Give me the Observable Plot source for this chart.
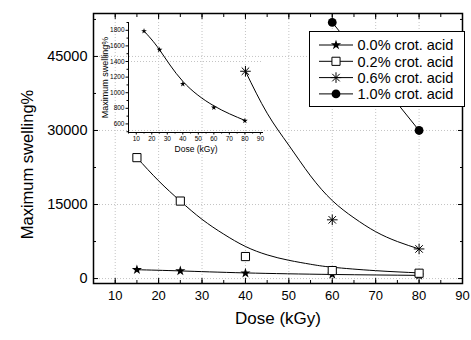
<!DOCTYPE html>
<html>
<head>
<meta charset="utf-8">
<script src="https://cdn.jsdelivr.net/npm/d3@7"></script>
<script src="https://cdn.jsdelivr.net/npm/@observablehq/plot@0.6"></script>
<style>
  html, body { margin: 0; padding: 0; background: #fff; }
  #wrap { position: relative; width: 471px; height: 340px; overflow: hidden; }
  #wrap svg { position: absolute; left: 0; top: 0; }
</style>
</head>
<body>
<div id="wrap"></div>
<script>
// ---------- data ----------
const seriesLabels = ["0.0% crot. acid", "0.2% crot. acid", "0.6% crot. acid", "1.0% crot. acid"];

const doses00 = [15, 25, 40, 60, 80];
const swell00 = [1780, 1550, 1110, 820, 650];
const doses02 = [15, 25, 40, 60, 80];
const swell02 = [24500, 15700, 4460, 1620, 1080];
const doses06 = [40, 60, 80];
const swell06 = [42000, 11900, 6000];
const doses10 = [60, 80];
const swell10 = [51900, 30000];

// fitted curves (as traced on the picture)
const fitDose00 = [15, 25, 40, 60, 80];
const fit00 = [1790, 1550, 1145, 830, 645];
const fitDose02 = [15, 20, 25, 30, 35, 40, 45, 50, 55, 60, 70, 80];
const fit02 = [24500, 19800, 15700, 12000, 9000, 6500, 4800, 3700, 2900, 2300, 1600, 1150];
const fitDose06 = [40, 45, 50, 55, 60, 65, 70, 75, 80];
const fit06 = [42000, 33500, 27000, 20800, 15800, 12300, 9500, 7500, 6000];

// inset (0.0% series, zoomed)
const insetDose = [15, 25, 40, 60, 80];
const insetSwell = [1790, 1550, 1112, 810, 640];
const insetFit = [1790, 1550, 1146, 832, 645];

// axes
const doseTicks = [10, 20, 30, 40, 50, 60, 70, 80, 90];
const doseMinor = [10, 15, 20, 25, 30, 35, 40, 45, 50, 55, 60, 65, 70, 75, 80, 85, 90];
const swellTicks = [0, 15000, 30000, 45000];
const swellMinor = [7500, 22500, 37500, 52500];
const xDomain = [5, 90];
const yDomain = [-1000, 53700];

const insetXDomain = [5, 92];
const insetYDomain = [490, 1900];
const insetXTicks = [10, 20, 30, 40, 50, 60, 70, 80, 90];
const insetXMinor = [5, 15, 25, 35, 45, 55, 65, 75, 85];
const insetYTicks = [600, 800, 1000, 1200, 1400, 1600, 1800];
const insetYMinor = [500, 700, 900, 1100, 1300, 1500, 1700, 1900];

const xLabel = "Dose (kGy)";
const yLabel = "Maximum swelling%";

// ---------- helpers ----------
const fam = "'Liberation Sans', Arial, Helvetica, sans-serif";
const pts = (xs, ys) => xs.map((x, i) => ({x, y: ys[i]}));
const asterisk8 = {
  draw(ctx, size) {
    const r = Math.sqrt(size / Math.PI);
    const d = r * Math.SQRT1_2;
    ctx.moveTo(-r, 0); ctx.lineTo(r, 0);
    ctx.moveTo(0, -r); ctx.lineTo(0, r);
    ctx.moveTo(-d, -d); ctx.lineTo(d, d);
    ctx.moveTo(-d, d); ctx.lineTo(d, -d);
  }
};
const blank = () => "";
const gridStyle = {stroke: "#c4c4c4", strokeOpacity: 1, strokeDasharray: "1,2"};

// ---------- main chart ----------
const main = Plot.plot({
  width: 471, height: 340,
  marginLeft: 93, marginRight: 9, marginTop: 13, marginBottom: 57,
  style: {fontFamily: fam, background: "transparent", color: "#000"},
  x: {domain: xDomain},
  y: {domain: yDomain},
  marks: [
    Plot.gridX({ticks: doseTicks, ...gridStyle}),
    Plot.gridY({ticks: swellTicks, ...gridStyle}),
    // fitted lines
    Plot.line(pts(fitDose00, fit00), {x: "x", y: "y", curve: "natural", stroke: "#000", strokeWidth: 1}),
    Plot.line(pts(fitDose02, fit02), {x: "x", y: "y", curve: "natural", stroke: "#000", strokeWidth: 1}),
    Plot.line(pts(fitDose06, fit06), {x: "x", y: "y", curve: "natural", stroke: "#000", strokeWidth: 1}),
    Plot.line(pts(doses10, swell10), {x: "x", y: "y", stroke: "#000", strokeWidth: 1}),
    // points
    Plot.dot(pts(doses00, swell00), {x: "x", y: "y", symbol: "star", r: 3.2, fill: "#000", stroke: "none"}),
    Plot.dot(pts(doses02, swell02), {x: "x", y: "y", symbol: "square", r: 4.6, fill: "#fff", stroke: "#000", strokeWidth: 1}),
    Plot.dot(pts(doses06, swell06), {x: "x", y: "y", symbol: asterisk8, r: 5.3, fill: "none", stroke: "#000", strokeWidth: 1}),
    Plot.dot(pts(doses10, swell10), {x: "x", y: "y", symbol: "circle", r: 4.4, fill: "#000", stroke: "none"}),
    // axes: inward ticks (Origin style)
    Plot.axisX({anchor: "bottom", ticks: doseMinor, tickSize: -3, tickFormat: blank, label: null}),
    Plot.axisX({anchor: "bottom", ticks: doseTicks, tickSize: -5, tickFormat: blank, label: null}),
    Plot.axisX({anchor: "bottom", ticks: doseTicks, tickSize: 0, tickPadding: 7, fontSize: 13, label: null}),
    Plot.axisX({anchor: "top", ticks: doseMinor, tickSize: -3, tickFormat: blank, label: null}),
    Plot.axisX({anchor: "top", ticks: doseTicks, tickSize: -5, tickFormat: blank, label: null}),
    Plot.axisY({anchor: "left", ticks: swellMinor, tickSize: -3, tickFormat: blank, label: null}),
    Plot.axisY({anchor: "left", ticks: swellTicks, tickSize: -5, tickFormat: blank, label: null}),
    Plot.axisY({anchor: "left", ticks: swellTicks, tickSize: 0, tickPadding: 6, fontSize: 14.5, tickFormat: d => String(d), label: null}),
    Plot.axisY({anchor: "right", ticks: swellMinor, tickSize: -3, tickFormat: blank, label: null}),
    Plot.axisY({anchor: "right", ticks: swellTicks, tickSize: -5, tickFormat: blank, label: null}),
    Plot.frame({stroke: "#000", strokeWidth: 1.5}),
    Plot.text([xLabel], {frameAnchor: "bottom", dy: 40, fontSize: 17, fill: "#000", textAnchor: "middle"}),
    Plot.text([yLabel], {frameAnchor: "left", rotate: -90, dx: -66, dy: 16, fontSize: 16.5, fill: "#000", textAnchor: "middle"})
  ]
});

// ---------- legend ----------
{
  const svg = d3.select(main);
  const g = svg.append("g").attr("text-anchor", "start")
    .attr("style", `font-family:${fam};font-size:14.5px;`);
  g.append("rect").attr("x", 309.5).attr("y", 31.5).attr("width", 155).attr("height", 75)
    .attr("fill", "#fff").attr("stroke", "#000").attr("stroke-width", 1);
  const syms = [
    {type: d3.symbolStar, size: Math.PI * 3.2 * 3.2, fill: "#000", stroke: "none"},
    {type: d3.symbolSquare, size: Math.PI * 4.6 * 4.6, fill: "#fff", stroke: "#000"},
    {type: asterisk8, size: Math.PI * 5.3 * 5.3, fill: "none", stroke: "#000"},
    {type: d3.symbolCircle, size: Math.PI * 4.4 * 4.4, fill: "#000", stroke: "none"}
  ];
  seriesLabels.forEach((lab, i) => {
    const y = 45 + i * 16.3;
    g.append("line").attr("x1", 319).attr("x2", 353).attr("y1", y).attr("y2", y)
      .attr("stroke", "#000").attr("stroke-width", 1);
    g.append("path").attr("transform", `translate(336,${y})`)
      .attr("d", d3.symbol().type(syms[i].type).size(syms[i].size)())
      .attr("fill", syms[i].fill).attr("stroke", syms[i].stroke);
    g.append("text").attr("x", 357.5).attr("y", y).attr("dy", "0.36em").attr("fill", "#000")
      .attr("style", `font-family:${fam};font-size:14.5px;`).text(lab);
  });
}

// ---------- inset ----------
const inset = Plot.plot({
  width: 471, height: 340,
  marginLeft: 128, marginRight: 208, marginTop: 22, marginBottom: 208,
  style: {fontFamily: fam, background: "transparent", color: "#000", overflow: "visible"},
  x: {domain: insetXDomain},
  y: {domain: insetYDomain},
  marks: [
    Plot.gridY({ticks: [1400], ...gridStyle}),
    Plot.ruleX([insetXDomain[0]], {stroke: "#000", strokeWidth: 1}),
    Plot.ruleY([insetYDomain[0]], {stroke: "#000", strokeWidth: 1}),
    Plot.line(pts(insetDose, insetFit), {x: "x", y: "y", curve: "natural", stroke: "#000", strokeWidth: 1}),
    Plot.dot(pts(insetDose, insetSwell), {x: "x", y: "y", symbol: "star", r: 1.8, fill: "#000", stroke: "none"}),
    Plot.axisX({ticks: insetXMinor, tickSize: 1.5, tickFormat: blank, label: null}),
    Plot.axisX({ticks: insetXTicks, tickSize: 2.5, tickPadding: 1.5, fontSize: 6.5, label: null}),
    Plot.axisY({ticks: insetYMinor, tickSize: 1.5, tickFormat: blank, label: null}),
    Plot.axisY({ticks: insetYTicks, tickSize: 2.5, tickPadding: 1.5, fontSize: 6.5, tickFormat: d => String(d), label: null}),
    Plot.text([xLabel], {frameAnchor: "bottom", dy: 19, fontSize: 8.5, fill: "#000", textAnchor: "middle"}),
    Plot.text([yLabel], {frameAnchor: "left", rotate: -90, dx: -23, fontSize: 9, fill: "#000", textAnchor: "middle"})
  ]
});

const wrap = document.getElementById("wrap");
wrap.appendChild(main);
wrap.appendChild(inset);
</script>
</body>
</html>
